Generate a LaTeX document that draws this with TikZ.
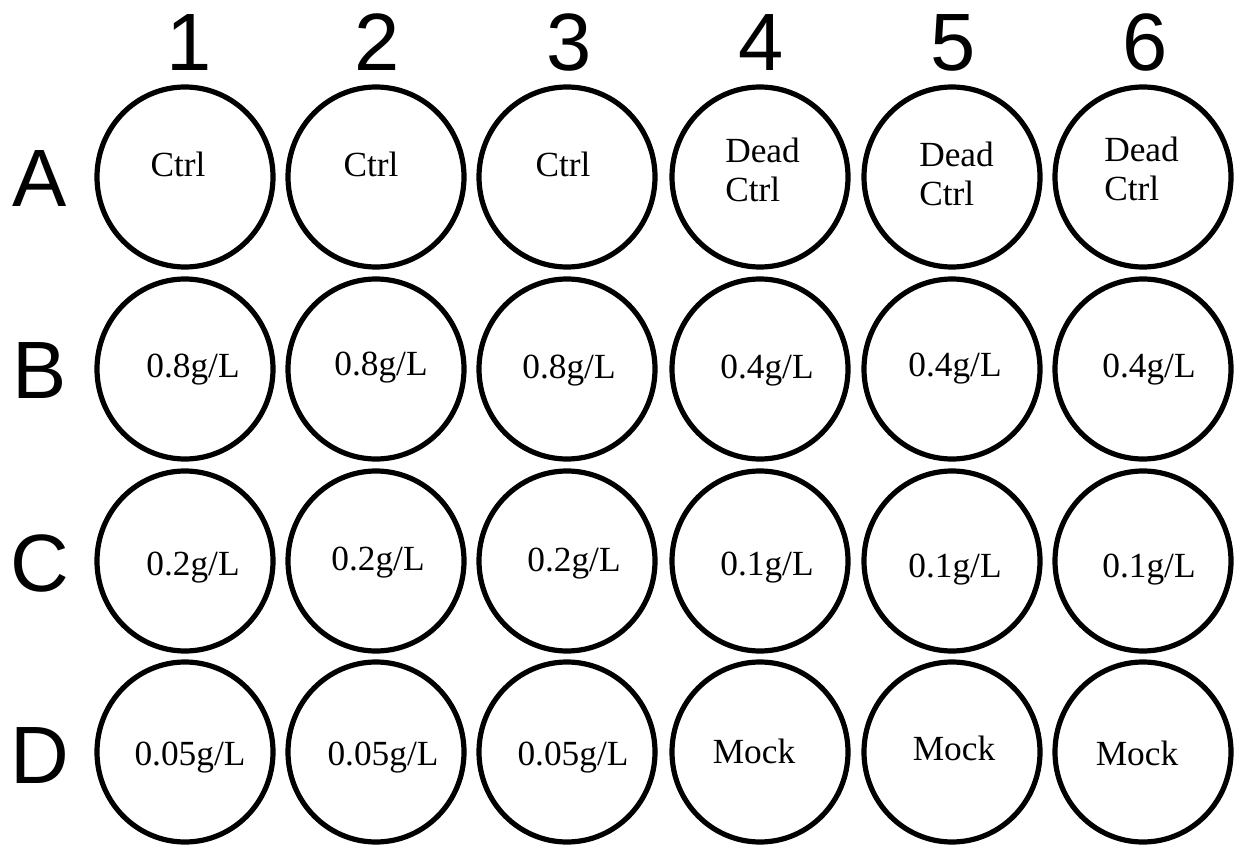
\documentclass[tikz,border=0pt]{standalone}
\usepackage{fontspec}
\setmainfont{Liberation Serif}
\newfontfamily\platefont{Liberation Sans}
\usetikzlibrary{shapes.geometric}
\begin{document}
\begin{tikzpicture}[
        x=0.75pt, y=-0.75pt,
        well/.style={draw, ellipse, line width=3.9pt, minimum width=132pt, minimum height=135pt, inner sep=0pt},
        welltext/.style={anchor=base, inner sep=0pt, font=\fontsize{26.5}{30}\selectfont},
        platelabel/.style={anchor=base, inner sep=0pt, font=\platefont\fontsize{61}{61}\selectfont}
    ]
    \useasboundingbox[fill=white] (0,0) rectangle (1235,845);

    % column numbers and row letters
    \foreach \n/\x in {1/189, 2/377, 3/569, 4/761, 5/953, 6/1145}
        \node[platelabel] (col\n) at (\x,71) {\n};
    \foreach \r/\y in {A/207, B/398, C/591, D/783}
        \node[platelabel] (row\r) at (40,\y) {\r};

    % wells
    \foreach \r/\y in {A/177, B/369, C/561, D/752}
        \foreach \n/\x in {1/185, 2/376, 3/567, 4/760, 5/952, 6/1143}
            \node[well] (w\r\n) at (\x,\y) {};

    % row A: controls
    \node[welltext] (tA1) at (178,176) {Ctrl};
    \node[welltext] (tA2) at (371,176) {Ctrl};
    \node[welltext] (tA3) at (563,176) {Ctrl};
    \node[welltext, anchor=base west] (tA4) at (725,163) {Dead};
    \node[welltext, anchor=base west] (tA4b) at (725,202) {Ctrl};
    \node[welltext, anchor=base west] (tA5) at (919,167) {Dead};
    \node[welltext, anchor=base west] (tA5b) at (919,205) {Ctrl};
    \node[welltext, anchor=base west] (tA6) at (1104,162) {Dead};
    \node[welltext, anchor=base west] (tA6b) at (1104,200) {Ctrl};

    % row B
    \node[welltext] (tB1) at (193,377) {0.8g/L};
    \node[welltext] (tB2) at (381,375) {0.8g/L};
    \node[welltext] (tB3) at (569,378) {0.8g/L};
    \node[welltext] (tB4) at (767,378) {0.4g/L};
    \node[welltext] (tB5) at (955,376) {0.4g/L};
    \node[welltext] (tB6) at (1149,377) {0.4g/L};

    % row C
    \node[welltext] (tC1) at (193,575) {0.2g/L};
    \node[welltext] (tC2) at (378,570) {0.2g/L};
    \node[welltext] (tC3) at (574,571) {0.2g/L};
    \node[welltext] (tC4) at (767,575) {0.1g/L};
    \node[welltext] (tC5) at (955,577) {0.1g/L};
    \node[welltext] (tC6) at (1149,577) {0.1g/L};

    % row D
    \node[welltext] (tD1) at (190,765) {0.05g/L};
    \node[welltext] (tD2) at (383,765) {0.05g/L};
    \node[welltext] (tD3) at (573,765) {0.05g/L};
    \node[welltext] (tD4) at (754,763) {Mock};
    \node[welltext] (tD5) at (954,760) {Mock};
    \node[welltext] (tD6) at (1137,765) {Mock};
\end{tikzpicture}
\end{document}
